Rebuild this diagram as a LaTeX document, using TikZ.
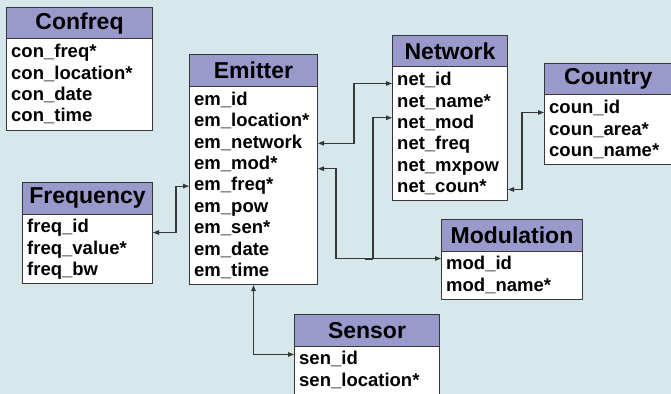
\documentclass[tikz,border=0pt]{standalone}
\usepackage{fontspec}
\setmainfont{Liberation Sans}
\usetikzlibrary{arrows.meta}
\definecolor{hdr}{RGB}{153,153,204}
\definecolor{bgA}{RGB}{214,232,236}
\definecolor{bgB}{RGB}{234,234,242}
\definecolor{ln}{RGB}{55,55,55}
\tikzset{
  hdrbox/.style={draw=ln, line width=1pt, fill=hdr, inner sep=0pt, minimum height=31.5pt,
    font=\fontsize{23}{23}\selectfont\bfseries, text=black},
  bodybox/.style={draw=ln, line width=1pt, fill=white, inner sep=0pt},
  field/.style={inner sep=0pt, text height=13.5pt, text depth=4pt,
    font=\fontsize{18.5}{18.5}\selectfont\bfseries, text=black},
  conn/.style={draw=ln, line width=1.1pt},
  >={Triangle[length=6pt,width=4.5pt]}
}
\newcommand\entity[7]{%
  \pgfmathsetmacro\ewid{#3-#2}%
  \pgfmathsetmacro\ehgt{#6*21.4+5.5}%
  \node[bodybox, minimum width=\ewid pt, minimum height=\ehgt pt, anchor=north west] (#1) at (#2,#4+31.5) {};
  \node[hdrbox, minimum width=\ewid pt, anchor=north west] (#1-h) at (#2,#4) {#5};
  \foreach \f [count=\i] in {#7}
    \node[field, anchor=west] (#1-\i) at (#2+5,#4+31.5+14.5+\i*21.4-21.4) {\f};
}
\begin{document}
\begin{tikzpicture}[x=1pt,y=-1pt]
\useasboundingbox (0,0) rectangle (671,393);
\clip (0,0) rectangle (671,393);
\shade[top color=bgA, middle color=bgB, bottom color=bgA] (0,0) rectangle (671,393);

\entity{cf}{6}{152}{7}{Confreq}{4}{con\_freq*,con\_location*,con\_date,con\_time}
\entity{em}{189}{317}{54.5}{Emitter}{9}{em\_id,em\_location*,em\_network,em\_mod*,em\_freq*,em\_pow,em\_sen*,em\_date,em\_time}
\entity{nw}{392}{507}{35}{Network}{6}{net\_id,net\_name*,net\_mod,net\_freq,net\_mxpow,net\_coun*}
\entity{co}{544}{671.5}{63}{Country}{3}{coun\_id,coun\_area*,coun\_name*}
\entity{fr}{22}{152}{182}{Frequency}{3}{freq\_id,freq\_value*,freq\_bw}
\entity{mo}{441}{582}{219}{Modulation}{2}{mod\_id,mod\_name*}
\entity{se}{294}{439}{314}{Sensor}{2}{sen\_id,sen\_location*}

\coordinate (n1) at ([yshift=-2.5pt]nw-1.center);
\coordinate (e4) at ([yshift=-4pt]em-4.center);
\coordinate (m1) at ([yshift=6.5pt]mo-1.center);
\coordinate (n3) at ([yshift=6pt]nw-3.center);
\coordinate (n6) at ([yshift=-1.5pt]nw-6.center);
\coordinate (c1) at ([yshift=-3.5pt]co-1.center);
\coordinate (f1) at ([yshift=-4.5pt]fr-1.center);
\coordinate (s1) at ([yshift=5.5pt]se-1.center);

\draw[conn,<->] (em.east |- em-3) -- ++(36,0) |- (nw.west |- n1);
\draw[conn,<->] (em.east |- e4) -- ++(18,0) |- (mo.west |- m1);
\draw[conn,->] (mo.west |- m1) ++(-68,0) |- (nw.west |- n3);
\draw[draw=ln, line width=2pt] (mo.west |- m1) ++(-76,0) -- ++(8,0);
\draw[conn,<->] (nw.east |- n6) -- ++(14,0) |- (co.west |- c1);
\draw[conn,<->] (fr.east |- f1) -- ++(23,0) |- (em.west |- em-5);
\draw[conn,<->] (em.south) |- (se.west |- s1);
\end{tikzpicture}
\end{document}
